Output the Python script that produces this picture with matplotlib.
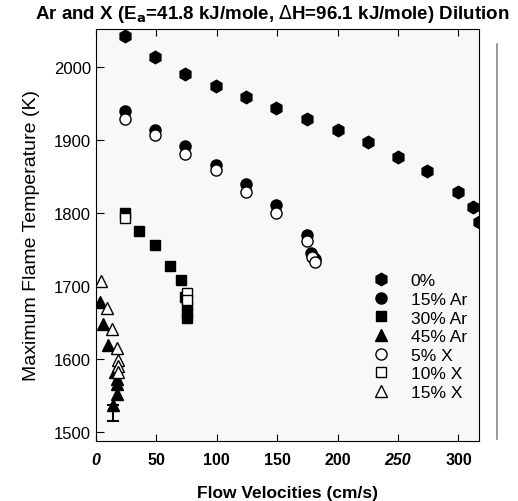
import matplotlib
matplotlib.use("Agg")
import matplotlib.pyplot as plt
from matplotlib.lines import Line2D

plt.rcParams['font.family'] = ['Liberation Sans', 'DejaVu Sans']

# Series data (flow velocity cm/s, max flame temperature K)
v_0 = [24, 49, 74, 99, 124, 149, 175, 200, 225, 250, 274, 300, 312, 317]
t_0 = [2043, 2014, 1990, 1974, 1959, 1943, 1928, 1913, 1897, 1877, 1857, 1829, 1808, 1788]

v_ar15 = [24, 49, 74, 99, 124, 149, 175, 178, 180, 181]
t_ar15 = [1939, 1913, 1892, 1866, 1839, 1811, 1770, 1745, 1740, 1736]

v_ar30 = [24, 36, 49, 61, 70, 74, 75, 75, 75]
t_ar30 = [1800, 1775, 1756, 1727, 1708, 1684, 1673, 1663, 1655]

v_ar45 = [3, 6, 10, 16, 17, 17, 17, 14]
t_ar45 = [1677, 1648, 1619, 1582, 1572, 1565, 1552, 1537]

v_x5 = [24, 49, 74, 99, 124, 149, 175, 179, 181]
t_x5 = [1928, 1906, 1881, 1859, 1829, 1800, 1761, 1740, 1732]

v_x10 = [24, 75, 75]
t_x10 = [1793, 1690, 1680]

v_x15 = [4, 9, 13, 17, 18, 18, 18]
t_x15 = [1706, 1669, 1640, 1614, 1598, 1590, 1581]

labels = ['0%', '15% Ar', '30% Ar', '45% Ar', '5% X', '10% X', '15% X']
x_ticks = [0, 50, 100, 150, 200, 250, 300]
y_ticks = [1500, 1600, 1700, 1800, 1900, 2000]

fig = plt.figure(figsize=(5.18, 5.02), dpi=100)
ax = fig.add_axes([96/518, 1-442/502, (479-96)/518, (442-30)/502])
ax.set_facecolor('#f8f8f8')

ms = 8
ax.plot(v_0, t_0, 'h', color='black', ms=ms+1, ls='none', label=labels[0])
ax.plot(v_ar15, t_ar15, 'o', color='black', ms=ms, ls='none', label=labels[1])
ax.plot(v_ar30, t_ar30, 's', color='black', ms=ms-1, ls='none', label=labels[2])
ax.plot(v_ar45, t_ar45, '^', color='black', ms=ms, ls='none', label=labels[3])
ax.plot(v_x5, t_x5, 'o', mfc='white', mec='black', ms=ms, ls='none', label=labels[4])
ax.plot(v_x10, t_x10, 's', mfc='white', mec='black', ms=ms-1, ls='none', label=labels[5])
ax.plot(v_x15, t_x15, '^', mfc='white', mec='black', ms=ms, ls='none', label=labels[6])
# error bar on the lowest point
ax.errorbar([v_ar45[-1]], [t_ar45[-1]], yerr=[[22], [0]], fmt='none', ecolor='black',
            elinewidth=1.5, capsize=4, capthick=1.5)

ax.set_xlim(0, 317)
ax.set_ylim(1487, 2052)
ax.set_xticks(x_ticks)
ax.set_yticks(y_ticks)
ax.tick_params(axis='x', direction='in', top=True, length=5, labelsize=11.5, pad=8)
ax.tick_params(axis='y', direction='in', length=6, labelsize=12)
for lab in ax.get_xticklabels():
    lab.set_fontweight('bold')
    if lab.get_text() in ('0', '250'):
        lab.set_fontstyle('italic')

ax.set_xlabel('Flow Velocities (cm/s)', fontsize=12.5, fontweight='bold', labelpad=13)
ax.set_ylabel('Maximum Flame Temperature (K)', fontsize=14, labelpad=10)
fig.text(272/518, 1-14/502,
         r'Ar and X (E$_\mathbf{a}$=41.8 kJ/mole, $\Delta$H=96.1 kJ/mole) Dilution',
         fontsize=13.5, fontweight='bold', ha='center', va='center')

leg = ax.legend(loc='lower right', bbox_to_anchor=(1.0, 0.07), frameon=False, fontsize=12.5,
                handletextpad=0.7, labelspacing=0.2, borderpad=0.2)

fig.add_artist(Line2D([497/518, 497/518], [1-440/502, 1-45/502], color='#888888', lw=1.2))

fig.savefig('out.png', dpi=100)
